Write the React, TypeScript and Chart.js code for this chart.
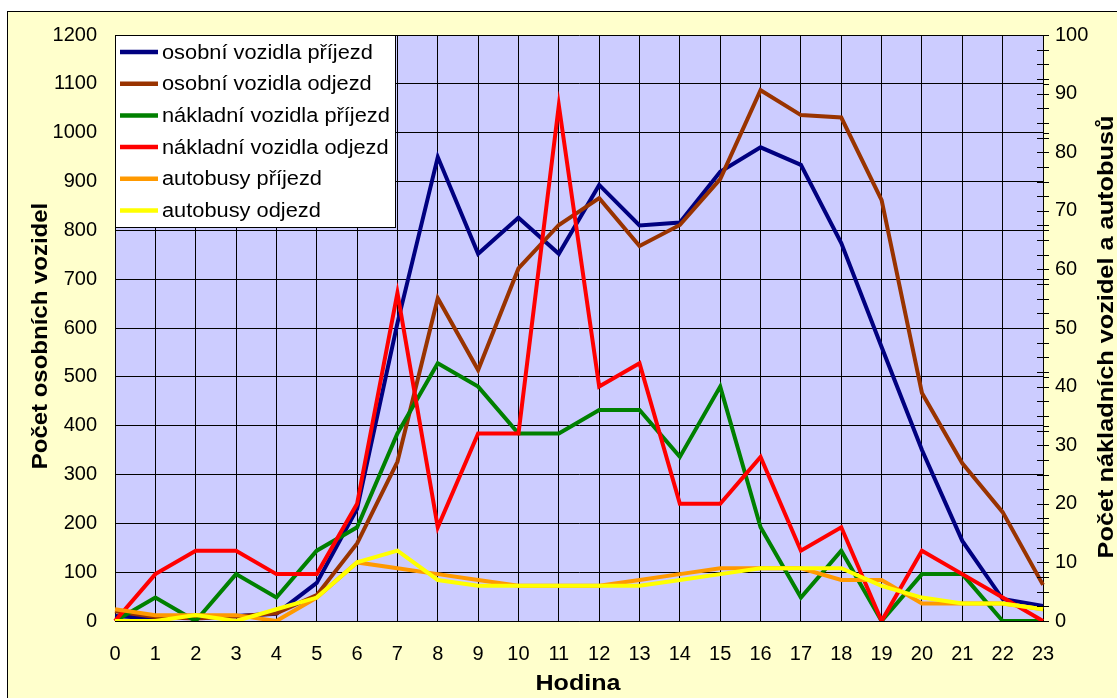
import React, { useEffect, useRef } from "react";
import { Chart, registerables } from "chart.js";

Chart.register(...registerables);

const hours = ["0","1","2","3","4","5","6","7","8","9","10","11","12","13","14","15","16","17","18","19","20","21","22","23"];

const osobniPrijezd = [10, 5, 10, 10, 15, 78, 230, 610, 950, 752, 826, 752, 893, 810, 816, 920, 970, 934, 774, 561, 350, 164, 45, 31];
const osobniOdjezd = [20, 8, 5, 9, 16, 53, 159, 326, 661, 514, 722, 811, 866, 768, 811, 905, 1087, 1036, 1031, 862, 467, 323, 223, 74];
const nakladniPrijezd = [0, 4, 0, 8, 4, 12, 16, 32, 44, 40, 32, 32, 36, 36, 28, 40, 16, 4, 12, 0, 8, 8, 0, 0];
const nakladniOdjezd = [0, 8, 12, 12, 8, 8, 20, 56, 16, 32, 32, 88, 40, 44, 20, 20, 28, 12, 16, 0, 12, 8, 4, 0];
const autobusyPrijezd = [2, 1, 1, 1, 0, 4, 10, 9, 8, 7, 6, 6, 6, 7, 8, 9, 9, 9, 7, 7, 3, 3, 3, 2];
const autobusyOdjezd = [0, 0, 1, 0, 2, 4, 10, 12, 7, 6, 6, 6, 6, 6, 7, 8, 9, 9, 9, 6, 4, 3, 3, 2];

const seriesNames = [
  "osobní vozidla příjezd",
  "osobní vozidla odjezd",
  "nákladní vozidla příjezd",
  "nákladní vozidla odjezd",
  "autobusy příjezd",
  "autobusy odjezd",
];
const seriesColors = ["#000080", "#993300", "#008000", "#FF0000", "#FF9900", "#FFFF00"];

const leftTitle = "Počet osobních vozidel";
const rightTitle = "Počet nákladních vozidel a autobusů";
const bottomTitle = "Hodina";

const FONT = "'Liberation Sans', Arial, sans-serif";

// canvas is placed at page (8, 5)
const CANVAS_W = 1109;
const CANVAS_H = 693;
const AREA_LEFT = 107;
const AREA_RIGHT = 1035;
const AREA_BOTTOM = 616;
const OY = 7; // canvas y = page y - 5 ; previous coords + OY

function stretchedText(ctx: any, text: string, x: number, y: number, rot: number, sx: number) {
  ctx.save();
  ctx.translate(x, y);
  ctx.rotate(rot);
  ctx.scale(sx, 1);
  ctx.fillText(text, 0, 0);
  ctx.restore();
}

const decorPlugin = {
  id: "decor",
  beforeDraw(chart: any) {
    const { ctx, chartArea } = chart;
    ctx.save();
    ctx.fillStyle = "#CCCCFF";
    ctx.fillRect(chartArea.left, chartArea.top, chartArea.right - chartArea.left, chartArea.bottom - chartArea.top);
    ctx.restore();
  },
  afterDraw(chart: any) {
    const { ctx, chartArea } = chart;
    const y1 = chart.scales.y1;
    const y = chart.scales.y;
    ctx.save();
    // right axis minor/major ticks
    ctx.strokeStyle = "#000";
    ctx.lineWidth = 1;
    ctx.beginPath();
    for (let v = 0; v <= 100.001; v += 2.5) {
      const py = Math.round(y1.getPixelForValue(v)) + 0.5;
      ctx.moveTo(chartArea.right - 6, py);
      ctx.lineTo(chartArea.right + 6, py);
    }
    for (let v = 0; v <= 1200; v += 100) {
      const py = Math.round(y.getPixelForValue(v)) + 0.5;
      ctx.moveTo(chartArea.right, py);
      ctx.lineTo(chartArea.right + 6, py);
    }
    ctx.stroke();

    // axis titles
    ctx.fillStyle = "#000";
    ctx.font = `bold 22px ${FONT}`;
    ctx.textAlign = "center";
    ctx.textBaseline = "middle";
    stretchedText(ctx, leftTitle, 33, 324 + OY, -Math.PI / 2, 1.09);
    stretchedText(ctx, rightTitle, 1099, 325 + OY, -Math.PI / 2, 1.15);
    stretchedText(ctx, bottomTitle, 570, 672 + OY, 0, 1.14);

    // legend
    const lx = chartArea.left;
    const ly = chartArea.top;
    const lw = 280;
    const lh = 192;
    ctx.fillStyle = "#FFFFFF";
    ctx.fillRect(lx, ly, lw, lh);
    ctx.strokeStyle = "#000";
    ctx.lineWidth = 1;
    ctx.strokeRect(lx + 0.5, ly + 0.5, lw, lh);
    ctx.font = `20px ${FONT}`;
    ctx.textAlign = "left";
    ctx.textBaseline = "middle";
    for (let i = 0; i < seriesNames.length; i++) {
      const cy = ly + 17 + i * 31.7;
      ctx.strokeStyle = seriesColors[i];
      ctx.lineWidth = 4.5;
      ctx.beginPath();
      ctx.moveTo(lx + 5, cy);
      ctx.lineTo(lx + 43, cy);
      ctx.stroke();
      ctx.fillStyle = "#000";
      stretchedText(ctx, seriesNames[i], lx + 47, cy + 1, 0, 1.09);
    }
    ctx.restore();
  },
};

export default function App() {
  const canvasRef = useRef<HTMLCanvasElement | null>(null);

  useEffect(() => {
    if (!canvasRef.current) return;
    const allSeries = [osobniPrijezd, osobniOdjezd, nakladniPrijezd, nakladniOdjezd, autobusyPrijezd, autobusyOdjezd];
    const datasets = allSeries.map((data, i) => ({
      label: seriesNames[i],
      data,
      borderColor: seriesColors[i],
      backgroundColor: seriesColors[i],
      borderWidth: 4,
      pointRadius: 0,
      pointHoverRadius: 0,
      tension: 0,
      fill: false,
      yAxisID: i < 2 ? "y" : "y1",
      order: 6 - i,
    }));

    const tickFont = { family: FONT, size: 20 };
    const chart = new Chart(canvasRef.current, {
      type: "line",
      data: { labels: hours, datasets },
      plugins: [decorPlugin],
      options: {
        animation: false,
        responsive: false,
        maintainAspectRatio: false,
        layout: { padding: { top: 16, left: 0, right: 0, bottom: 0 } },
        plugins: {
          legend: { display: false },
          tooltip: { enabled: false },
          title: { display: false },
        },
        scales: {
          x: {
            type: "category",
            offset: false,
            grid: { color: "#000", lineWidth: 1, drawTicks: false, offset: false },
            border: { color: "#000", width: 1 },
            ticks: { color: "#000", font: tickFont, padding: 21, maxRotation: 0, autoSkip: false },
            afterFit: (s: any) => { s.height = CANVAS_H - AREA_BOTTOM; },
          },
          y: {
            position: "left",
            min: 0,
            max: 1200,
            grid: { color: "#000", lineWidth: 1, drawTicks: false },
            border: { color: "#000", width: 1 },
            ticks: { stepSize: 100, color: "#000", font: tickFont, padding: 18, callback: (v: any) => String(v) },
            afterFit: (s: any) => { s.width = AREA_LEFT; },
          },
          y1: {
            position: "right",
            min: 0,
            max: 100,
            grid: { drawOnChartArea: false, drawTicks: false },
            border: { color: "#000", width: 1 },
            ticks: { stepSize: 10, color: "#000", font: tickFont, padding: 12, callback: (v: any) => String(v) },
            afterFit: (s: any) => { s.width = CANVAS_W - AREA_RIGHT; },
          },
        },
      },
    });
    return () => chart.destroy();
  }, []);

  return (
    <div style={{ position: "fixed", left: 0, top: 0, width: 1117, height: 698, overflow: "hidden", background: "#FFFFFF" }}>
      <div
        style={{
          position: "absolute",
          left: 7,
          top: 11,
          width: 1140,
          height: 720,
          border: "1px solid #000",
          background: "#FFFFCC",
        }}
      />
      <canvas
        ref={canvasRef}
        width={CANVAS_W}
        height={CANVAS_H}
        style={{ position: "absolute", left: 8, top: 5, display: "block", width: CANVAS_W, height: CANVAS_H }}
      />
    </div>
  );
}
